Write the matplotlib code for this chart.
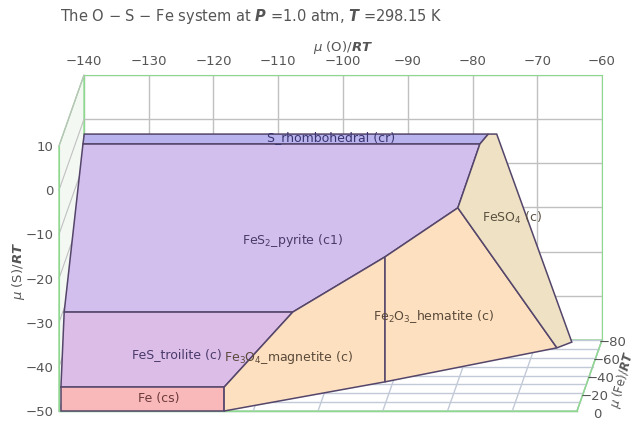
import matplotlib
matplotlib.use("Agg")
import matplotlib.pyplot as plt
from matplotlib.patches import Polygon
from matplotlib.transforms import Affine2D, offset_copy

# phase fields as seen on the front plane: mu(O)/RT and mu(S)/RT of each corner
s_rhomb_O = [-136.3, -136.1, -73.7, -75.0]
s_rhomb_S = [10.45, 12.7, 12.7, 10.45]

pyrite_O = [-136.3, -75.0, -78.4, -89.65, -103.9, -139.2]
pyrite_S = [10.45, 10.45, -4.0, -15.1, -27.6, -27.6]

troilite_O = [-139.2, -103.9, -114.5, -139.7]
troilite_S = [-27.6, -27.6, -44.6, -44.6]

iron_O = [-139.7, -114.5, -114.5, -139.7]
iron_S = [-44.6, -44.6, -50.0, -50.0]

magnetite_O = [-114.5, -103.9, -89.65, -89.65, -114.5]
magnetite_S = [-44.6, -27.6, -15.1, -43.4, -50.0]

hematite_O = [-89.65, -78.4, -63.1, -89.65]
hematite_S = [-15.1, -4.0, -35.7, -43.4]

fe_sulfate_O = [-75.0, -73.7, -72.4, -60.8, -63.1, -78.4]
fe_sulfate_S = [10.45, 12.7, 12.7, -34.4, -35.7, -4.0]

phase_names = ["S_rhombohedral (cr)", "FeS$_2$_pyrite (c1)", "FeS_troilite (c)",
               "Fe (cs)", "Fe$_3$O$_4$_magnetite (c)", "Fe$_2$O$_3$_hematite (c)",
               "FeSO$_4$ (c)"]
label_O = [-98.0, -104.0, -121.8, -124.6, -104.6, -82.2, -70.0]
label_S = [12.0, -11.5, -37.3, -47.1, -38.0, -28.7, -6.3]

fill_colors = ["#b9b3ee", "#d3bfee", "#dcbde8", "#f9b8ba", "#fde0c0", "#fde0c0", "#efe2c4"]
text_colors = ["#3a3570", "#4a3a6a", "#4a3a6a", "#6a3a3a", "#5a4a3a", "#5a4a3a", "#5a5040"]

# axis ranges and ticks
o_ticks = list(range(-140, -59, 10))
s_ticks = list(range(-50, 11, 10))
fe_ticks = [-80, -60, -40, -20, 0]
fe_grid = list(range(-80, 1, 10))

W, H = 639, 425
front_box = (59, 146, 518, 265)   # left, top, width, height in pixels
depth_px = (25, 71)               # shift of the back plane (right, up)

GREEN = "#8fd88f"
GRID = "#c0c0c0"
TICK = "#555555"

fig = plt.figure(figsize=(W / 100, H / 100), dpi=100)


def box_to_rect(left, top, w, h):
    return [left / W, (H - top - h) / H, w / W, h / H]


fl, ft, fw, fh = front_box
back = fig.add_axes(box_to_rect(fl + depth_px[0], ft - depth_px[1], fw, fh))
ax = fig.add_axes(box_to_rect(fl, ft, fw, fh))

# back wall with the mu(O) scale along its top
back.set_xlim(-140, -60)
back.set_ylim(-50, 10)
back.set_xticks(o_ticks)
back.set_yticks(s_ticks)
back.xaxis.tick_top()
back.tick_params(axis="x", length=0, pad=5, labelsize=9.5, labelcolor=TICK)
back.tick_params(axis="y", length=0, labelleft=False)
back.grid(True, color=GRID, lw=1)
for sp in back.spines.values():
    sp.set_color(GREEN)
back.set_xlabel(r"$\mu$ (O)/$\mathbfit{RT}$", fontsize=9.5, color=TICK, labelpad=3)
back.xaxis.set_label_position("top")

# front plane: phase fields and the mu(S) scale
ax.set_xlim(-140, -60)
ax.set_ylim(-50, 10)
ax.patch.set_alpha(0)
ax.set_xticks([])
ax.set_yticks(s_ticks)
ax.tick_params(axis="y", length=0, pad=4, labelsize=9.5, labelcolor=TICK)
for side in ["top", "right", "bottom"]:
    ax.spines[side].set_visible(False)
ax.spines["left"].set_color(GREEN)
ax.set_ylabel(r"$\mu$ (S)/$\mathbfit{RT}$", fontsize=9.5, color=TICK)
ax.yaxis.set_label_coords(-0.062, 0.53)

# data units moved per unit of mu(Fe)/RT when going back into the box
k_o = depth_px[0] / (fw / 80) / 80
k_s = depth_px[1] / (fh / 60) / 80

# floor: (mu(O), mu(Fe)) -> front data coords
floor_tr = Affine2D.from_values(1, 0, -k_o, -k_s, 0, -50) + ax.transData
# left wall: (mu(Fe), mu(S)) -> front data coords
wall_tr = Affine2D.from_values(-k_o, -k_s, 0, 1, -140, 0) + ax.transData

floor = Polygon([(-140, 0), (-60, 0), (-60, -80), (-140, -80)], closed=True,
                facecolor="white", edgecolor=GREEN, lw=1, transform=floor_tr,
                clip_on=False, zorder=1)
ax.add_patch(floor)
for z in fe_grid:
    ax.plot([-140, -60], [z, z], color="#c2cad8", lw=1, transform=floor_tr,
            clip_on=False, zorder=1.1)
for o in o_ticks:
    ax.plot([o, o], [0, -80], color="#c2cad8", lw=1, transform=floor_tr,
            clip_on=False, zorder=1.1)
ax.plot([-140, -60], [0, 0], color=GREEN, lw=1, transform=floor_tr, clip_on=False, zorder=1.2)
ax.plot([-60, -60], [0, -80], color=GREEN, lw=1, transform=floor_tr, clip_on=False, zorder=1.2)

wall = Polygon([(0, -50), (0, 10), (-80, 10), (-80, -50)], closed=True,
               facecolor="#f3f8f3", edgecolor=GREEN, lw=1, transform=wall_tr,
               clip_on=False, zorder=1)
ax.add_patch(wall)
for s in s_ticks:
    ax.plot([0, -80], [s, s], color=GRID, lw=0.8, transform=wall_tr, clip_on=False, zorder=1.1)

# mu(Fe) scale along the right edge of the floor
fe_label_tr = offset_copy(floor_tr, fig=fig, x=25, y=-3, units="dots")
for z in fe_ticks:
    ax.text(-60, z, f"{z}".replace("-", "\u2212"), transform=fe_label_tr,
            ha="right", va="center", fontsize=9.5, color=TICK, clip_on=False)
fe_title_tr = offset_copy(floor_tr, fig=fig, x=33, y=-4, units="dots")
ax.text(-60, -40, r"$\mu$ (Fe)/$\mathbfit{RT}$", transform=fe_title_tr, rotation=75,
        ha="center", va="center", fontsize=8.5, color=TICK, clip_on=False)

fields = [(s_rhomb_O, s_rhomb_S), (pyrite_O, pyrite_S), (troilite_O, troilite_S),
          (iron_O, iron_S), (magnetite_O, magnetite_S), (hematite_O, hematite_S),
          (fe_sulfate_O, fe_sulfate_S)]
for (xs, ys), fc in zip(fields, fill_colors):
    ax.add_patch(Polygon(list(zip(xs, ys)), closed=True, facecolor=fc,
                         edgecolor="#54456a", lw=1.1, clip_on=False, zorder=3))

for name, x, y, c in zip(phase_names, label_O, label_S, text_colors):
    ax.text(x, y, name, ha="center", va="center", fontsize=9, color=c, zorder=5)

fig.text(60 / W, 1 - 17 / H,
         r"The O $-$ S $-$ Fe system at $\mathbfit{P}$ =1.0 atm, $\mathbfit{T}$ =298.15 K",
         ha="left", va="center", fontsize=10.5, color=TICK)

fig.savefig("out.png", dpi=100)
